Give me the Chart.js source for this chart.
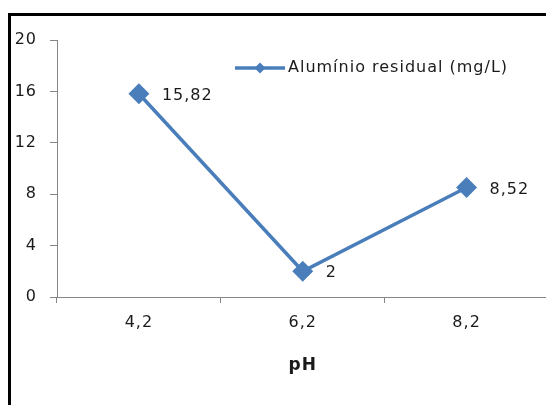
<!DOCTYPE html>
<html>
<head>
<meta charset="utf-8">
<script src="https://cdn.jsdelivr.net/npm/chart.js@4"></script>
<style>
    body { margin: 0; background: #ffffff; overflow: hidden; }
    #wrap { position: absolute; left: 0; top: 0; width: 560px; height: 405px; }
    #frame {
        position: absolute; left: 8px; top: 13px; width: 700px; height: 500px;
        border-left: 3px solid #000000; border-top: 3px solid #000000;
    }
</style>
</head>
<body>
<div id="frame"></div>
<div id="wrap"><canvas id="aluminio" width="560" height="405"></canvas></div>
<script>
const labelsPh = ['4,2', '6,2', '8,2'];
const valuesAl = [15.82, 2, 8.52];
const textValues = ['15,82', '2', '8,52'];
const legendText = 'Alumínio residual (mg/L)';

const lineBlue = '#4a7ebb';
const textColor = '#1a1a1a';
const axisGray = '#868686';
const fontName = "'DejaVu Sans', sans-serif";
const spacing = '1px';

// wider letter spacing for every text on the canvas
const textSpacing = {
    id: 'textSpacing',
    beforeLayout(chart) { chart.ctx.letterSpacing = spacing; },
    beforeDraw(chart) { chart.ctx.letterSpacing = spacing; }
};

// value labels right of each point
const valueLabels = {
    id: 'valueLabels',
    afterDatasetsDraw(chart) {
        const ctx = chart.ctx;
        const meta = chart.getDatasetMeta(0);
        ctx.save();
        ctx.fillStyle = textColor;
        ctx.font = '16px ' + fontName;
        ctx.textBaseline = 'middle';
        ctx.textAlign = 'left';
        meta.data.forEach(function (pt, i) {
            ctx.fillText(textValues[i], pt.x + 23, pt.y + 2);
        });
        ctx.restore();
    }
};

// legend inside the plot, line with diamond
const lineLegend = {
    id: 'lineLegend',
    afterDraw(chart) {
        const ctx = chart.ctx;
        const x = 235, y = 68;
        ctx.save();
        ctx.strokeStyle = lineBlue;
        ctx.lineWidth = 3.5;
        ctx.beginPath();
        ctx.moveTo(x, y);
        ctx.lineTo(x + 50, y);
        ctx.stroke();
        ctx.fillStyle = lineBlue;
        ctx.beginPath();
        ctx.moveTo(x + 25, y - 5.5);
        ctx.lineTo(x + 30.5, y);
        ctx.lineTo(x + 25, y + 5.5);
        ctx.lineTo(x + 19.5, y);
        ctx.closePath();
        ctx.fill();
        ctx.fillStyle = textColor;
        ctx.font = '16px ' + fontName;
        ctx.textBaseline = 'middle';
        ctx.fillText(legendText, x + 53, y);
        ctx.restore();
    }
};

const config = {
    type: 'line',
    data: {
        labels: labelsPh,
        datasets: [{
            label: legendText,
            data: valuesAl,
            borderColor: lineBlue,
            backgroundColor: lineBlue,
            borderWidth: 3.5,
            pointStyle: 'rectRot',
            pointRadius: 8,
            pointHoverRadius: 8,
            tension: 0
        }]
    },
    options: {
        responsive: false,
        animation: false,
        layout: {
            padding: { top: 40, right: 11, left: 0, bottom: 0 }
        },
        plugins: {
            legend: { display: false },
            tooltip: { enabled: false }
        },
        scales: {
            x: {
                offset: true,
                grid: {
                    offset: true,
                    drawOnChartArea: false,
                    tickLength: 6,
                    color: axisGray
                },
                border: { color: axisGray },
                ticks: {
                    color: textColor,
                    padding: 10,
                    font: { family: fontName, size: 16 }
                },
                title: {
                    display: true,
                    text: 'pH',
                    color: textColor,
                    padding: { top: 0, bottom: 29 },
                    font: { family: fontName, size: 17, weight: 'bold' }
                },
                afterFit(scale) { scale.height = 108; }
            },
            y: {
                min: 0,
                max: 20,
                ticks: {
                    stepSize: 4,
                    color: textColor,
                    padding: 13,
                    font: { family: fontName, size: 16 }
                },
                grid: {
                    drawOnChartArea: false,
                    tickLength: 7,
                    color: axisGray
                },
                border: { color: axisGray },
                afterFit(scale) { scale.width = 57; }
            }
        }
    },
    plugins: [textSpacing, valueLabels, lineLegend]
};

var chartAl = new Chart(
    document.getElementById('aluminio'),
    config
);
</script>
</body>
</html>
